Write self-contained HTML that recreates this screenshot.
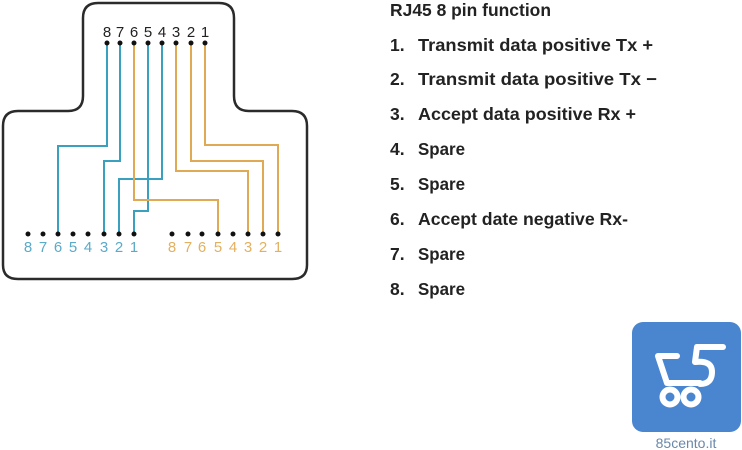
<!DOCTYPE html>
<html><head><meta charset="utf-8"><style>
html,body{margin:0;padding:0;background:#fff;}
svg{display:block;}
</style></head><body>
<svg width="742" height="450" viewBox="0 0 742 450" xmlns="http://www.w3.org/2000/svg">
<rect width="742" height="450" fill="#fff"/>
<path d="M98,3 H219 Q234,3 234,18 V96 Q234,111 249,111 H292 Q307,111 307,126 V265 Q307,279 292,279 H18 Q3,279 3,265 V126 Q3,111 18,111 H68 Q83,111 83,96 V18 Q83,3 98,3 Z" fill="none" stroke="#2b2b2b" stroke-width="2.5"/>
<g fill="none" stroke="#3aa0c0" stroke-width="2">
<path d="M107,43 V146 H58 V234"/>
<path d="M120,43 V161 H104 V234"/>
<path d="M162,43 V179 H119 V234"/>
<path d="M148,43 V211 H134 V234"/>
</g>
<g fill="none" stroke="#e0aa55" stroke-width="2">
<path d="M134,43 V200 H218 V234"/>
<path d="M176,43 V171 H248 V234"/>
<path d="M191,43 V161 H263 V234"/>
<path d="M205,43 V145 H278 V234"/>
</g>
<g fill="#111">
<circle cx="107" cy="43" r="2.5"/><circle cx="120" cy="43" r="2.5"/><circle cx="134" cy="43" r="2.5"/><circle cx="148" cy="43" r="2.5"/><circle cx="162" cy="43" r="2.5"/><circle cx="176" cy="43" r="2.5"/><circle cx="191" cy="43" r="2.5"/><circle cx="205" cy="43" r="2.5"/>
<circle cx="28" cy="234" r="2.5"/><circle cx="43" cy="234" r="2.5"/><circle cx="58" cy="234" r="2.5"/><circle cx="73" cy="234" r="2.5"/><circle cx="88" cy="234" r="2.5"/><circle cx="104" cy="234" r="2.5"/><circle cx="119" cy="234" r="2.5"/><circle cx="134" cy="234" r="2.5"/>
<circle cx="172" cy="234" r="2.5"/><circle cx="188" cy="234" r="2.5"/><circle cx="202" cy="234" r="2.5"/><circle cx="218" cy="234" r="2.5"/><circle cx="233" cy="234" r="2.5"/><circle cx="248" cy="234" r="2.5"/><circle cx="263" cy="234" r="2.5"/><circle cx="278" cy="234" r="2.5"/>
</g>
<g font-family="Liberation Sans, sans-serif" font-size="15" text-anchor="middle">
<g fill="#222">
<text x="107" y="37">8</text><text x="120" y="37">7</text><text x="134" y="37">6</text><text x="148" y="37">5</text><text x="162" y="37">4</text><text x="176" y="37">3</text><text x="191" y="37">2</text><text x="205" y="37">1</text>
</g>
<g fill="#5aaac8">
<text x="28" y="252">8</text><text x="43" y="252">7</text><text x="58" y="252">6</text><text x="73" y="252">5</text><text x="88" y="252">4</text><text x="104" y="252">3</text><text x="119" y="252">2</text><text x="134" y="252">1</text>
</g>
<g fill="#e3b060">
<text x="172" y="252">8</text><text x="188" y="252">7</text><text x="202" y="252">6</text><text x="218" y="252">5</text><text x="233" y="252">4</text><text x="248" y="252">3</text><text x="263" y="252">2</text><text x="278" y="252">1</text>
</g>
</g>
<g font-family="Liberation Sans, sans-serif" font-size="17.5" font-weight="bold" fill="#222">
<text x="390" y="16" textLength="161" lengthAdjust="spacingAndGlyphs">RJ45 8 pin function</text>
<text x="390" y="51">1.</text><text x="418" y="51" textLength="235" lengthAdjust="spacingAndGlyphs">Transmit data positive  Tx +</text>
<text x="390" y="85">2.</text><text x="418" y="85" textLength="239" lengthAdjust="spacingAndGlyphs">Transmit data positive  Tx −</text>
<text x="390" y="120">3.</text><text x="418" y="120" textLength="218" lengthAdjust="spacingAndGlyphs">Accept data positive Rx +</text>
<text x="390" y="155">4.</text><text x="418" y="155" textLength="47" lengthAdjust="spacingAndGlyphs">Spare</text>
<text x="390" y="190">5.</text><text x="418" y="190" textLength="47" lengthAdjust="spacingAndGlyphs">Spare</text>
<text x="390" y="225">6.</text><text x="418" y="225" textLength="210" lengthAdjust="spacingAndGlyphs">Accept date negative Rx-</text>
<text x="390" y="260">7.</text><text x="418" y="260" textLength="47" lengthAdjust="spacingAndGlyphs">Spare</text>
<text x="390" y="295">8.</text><text x="418" y="295" textLength="47" lengthAdjust="spacingAndGlyphs">Spare</text>
</g>
<rect x="632" y="322" width="109" height="110" rx="11" fill="#4a86d0"/>
<g fill="none" stroke="#fff" stroke-width="6" stroke-linecap="round" stroke-linejoin="round">
<path d="M677,356 H658 L667,383 H700"/>
<path d="M723,347 H697 L695,362 Q712,360 712,372 Q712,384 700,384"/>
<circle cx="670" cy="397" r="7.5"/>
<circle cx="691" cy="397" r="7.5"/>
</g>
<text x="686" y="448" font-family="Liberation Sans, sans-serif" font-size="14" fill="#6a88aa" text-anchor="middle">85cento.it</text>
</svg>
</body></html>
